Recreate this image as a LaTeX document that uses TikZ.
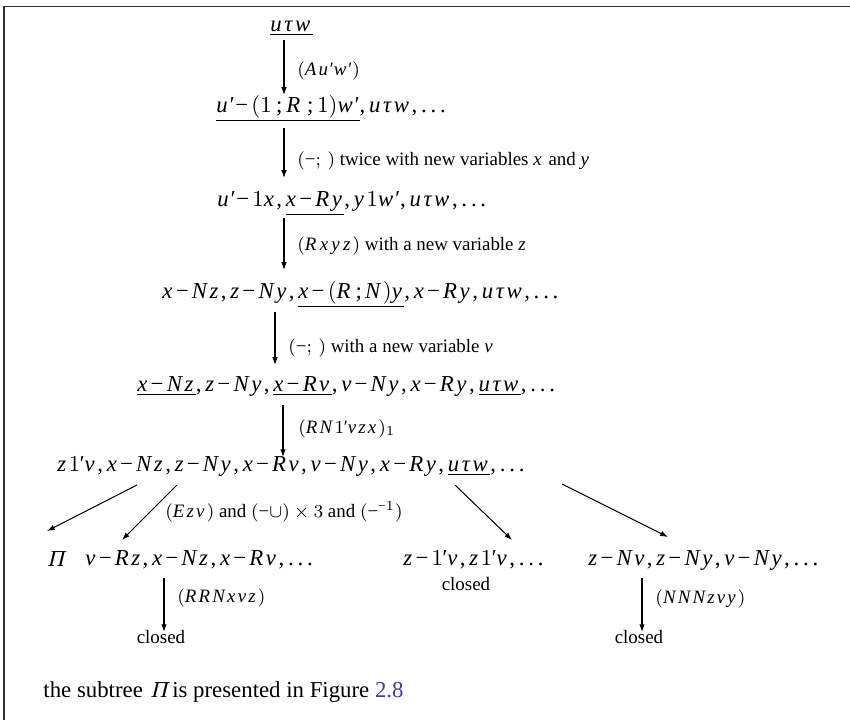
\documentclass[tikz,border=0pt]{standalone}
\usepackage{fontspec}
\setmainfont{Liberation Serif}
\usetikzlibrary{arrows.meta,calc}
\DeclareSymbolFont{lsit}{TU}{\rmdefault}{m}{it}
\DeclareSymbolFont{lsup}{TU}{\rmdefault}{m}{n}
% italic letters with a little extra room after each, like a math italic
\newcommand\mkletter[1]{%
  \begingroup\lccode`\~=`#1\relax
  \lowercase{\endgroup\def~}{\Umathchar"7 \symlsit `#1 \mkern2mu}%
  \mathcode`#1="8000 }
\mkletter u\mkletter w\mkletter A\mkletter R\mkletter x\mkletter y
\mkletter z\mkletter N\mkletter v\mkletter E
\begingroup\lccode`\~=`-\relax
\lowercase{\endgroup\def~}{\mathord{\mkern0.5mu\Umathchar"0 \symlsup "2212 \mkern2.5mu}}
\mathcode`-="8000
\begingroup\lccode`\~=`\'\relax
\lowercase{\endgroup\def~}{\mkern-1.5mu\Umathchar"0 \symlsit "2032 \mkern1mu}
\mathcode`\'="8000
\newcommand\mn{\Umathchar"0 \symlsup "2212 }
\DeclareMathSymbol{1}{\mathalpha}{lsup}{`1}
\DeclareMathSymbol{3}{\mathalpha}{lsup}{`3}
\DeclareMathSymbol{(}{\mathopen}{lsup}{`(}
\DeclareMathSymbol{)}{\mathclose}{lsup}{`)}
\DeclareMathSymbol{,}{\mathpunct}{lsup}{`,}
\DeclareMathSymbol{;}{\mathpunct}{lsup}{`;}
\def\tau{\Umathchar"7 \symlsit "03C4 \mkern2mu}
\Umathchardef\ldotp="6 \symlsup "2E
\newcommand\slantpi[1]{\tikz[baseline=(#1.base),x=1cm,y=1cm]
  \node[inner sep=0pt,outer sep=0pt,xslant=0.24,transform shape,anchor=base] (#1) {\strut$\Umathchar"0 \symlsup "03A0$};}
\definecolor{linkblue}{RGB}{65,60,165}
\definecolor{framegray}{RGB}{45,45,45}
\newcommand\sm{\mathord{\mkern3.5mu\Umathchar"0 \symlsup `;\mkern3mu}}
\newcommand\smt{\mathord{\mkern2mu\Umathchar"0 \symlsup `;\mkern2.5mu}}
\begin{document}
\begin{tikzpicture}[x=0.4384pt,y=-0.4384pt,
  ln/.style={anchor=base west,inner sep=0pt,font=\fontsize{10}{12}\selectfont},
  lab/.style={anchor=base west,inner sep=0pt,font=\fontsize{8.3}{10}\selectfont},
  cl/.style={anchor=base,inner sep=0pt,font=\fontsize{8.3}{10}\selectfont},
  arr/.style={-{Latex[length=3.4pt,width=2.4pt]},line width=0.45pt}]
\useasboundingbox (0,0) rectangle (850,720);
\draw[line width=0.65pt,framegray] (4,720) -- (4,6.5) -- (850,6.5);
% main lines
\node[ln] (l1) at (270,31) {$\underline{u\tau w}$};
\node[ln] (l2) at (216,112) {$\underline{u'-(1\sm R\sm 1)w'}, u\tau w, \ldots$};
\node[ln] (l3) at (217,206) {$u'-1x, \underline{x-Ry}, y1w', u\tau w, \ldots$};
\node[ln] (l4) at (162,298) {$x-Nz, z-Ny, \underline{x-(R\smt N)y}, x-Ry, u\tau w, \ldots$};
\node[ln] (l5) at (137,391) {$\underline{x-Nz}, z-Ny, \underline{x-Rv}, v-Ny, x-Ry, \underline{u\tau w}, \ldots$};
\node[ln] (l6) at (57,471) {$z1'v, x-Nz, z-Ny, x-Rv, v-Ny, x-Ry, \underline{u\tau w}, \ldots$};
\node[ln] (pi) at (45,566) {\slantpi{piglyphA}};
\node[ln] (l7a) at (85,565) {$v-Rz, x-Nz, x-Rv, \ldots$};
\node[ln] (l7b) at (403,565) {$z-1'v, z1'v, \ldots$};
\node[ln] (l7c) at (588,565) {$z-Nv, z-Ny, v-Ny, \ldots$};
\node[cl] (clm) at (466,590) {closed};
\node[cl] (cll) at (161,643) {closed};
\node[cl] (clr) at (639,643) {closed};
% labels
\node[lab] (t1) at (297,75) {$(Au'w')$};
\node[lab] (t2) at (297,165) {$(\mn;\,)$ twice with new variables $x$ and $y$};
\node[lab] (t3) at (297,250) {$(R\mkern1mu x\mkern1mu y\mkern1mu z)$ with a new variable $z$};
\node[lab] (t4) at (288,352) {$(\mn;\,)$ with a new variable $v$};
\node[lab] (t5) at (298,433) {$(RN1'vzx)_1$};
\node[lab] (t6) at (165,517) {$(Ezv)$ and $(\mn\cup)\times 3$ and $(\mn^{\mn 1})$};
\node[lab] (t7) at (177,602) {$(RRNxvz)$};
\node[lab] (t8) at (655,603) {$(NNNzvy)$};
\node[ln] (cap) at (43,697) {the subtree \slantpi{piglyphB}\hspace{-2.2pt} is presented in Figure \textcolor{linkblue}{2.8}};
% arrows
\coordinate (ax1) at (284,0);
\coordinate (ax4) at (275,0);
\coordinate (ax5) at (283,0);
\coordinate (axl) at (164,0);
\coordinate (axr) at (642,0);
\draw[arr] ($(l1.base -| ax1)+(0,9)$) -- ($(l2.base -| ax1)+(0,-17)$);
\draw[arr] ($(l2.base -| ax1)+(0,16)$) -- ($(l3.base -| ax1)+(0,-28)$);
\draw[arr] ($(l3.base -| ax1)+(0,12)$) -- ($(l4.base -| ax1)+(0,-28)$);
\draw[arr] ($(l4.base -| ax4)+(0,14)$) -- ($(l5.base -| ax4)+(0,-26)$);
\draw[arr] ($(l5.base -| ax5)+(0,14)$) -- ($(l6.base -| ax5)+(0,-14)$);
\draw[arr] ($(l6.base west)+(80,14)$) -- ($(pi.base west)+(2,-35)$);
\draw[arr] ($(l6.base west)+(120,14)$) -- ($(l7a.base west)+(37,-25)$);
\draw[arr] ($(l6.base west)+(398,14)$) -- ($(l7b.base west)+(109,-25)$);
\draw[arr] ($(l6.base west)+(505,13)$) -- ($(l7c.base west)+(80,-28)$);
\draw[arr] ($(l7a.base -| axl)+(0,13)$) -- ($(cll.base -| axl)+(0,-11)$);
\draw[arr] ($(l7c.base -| axr)+(0,13)$) -- ($(clr.base -| axr)+(0,-11)$);
\end{tikzpicture}
\end{document}
